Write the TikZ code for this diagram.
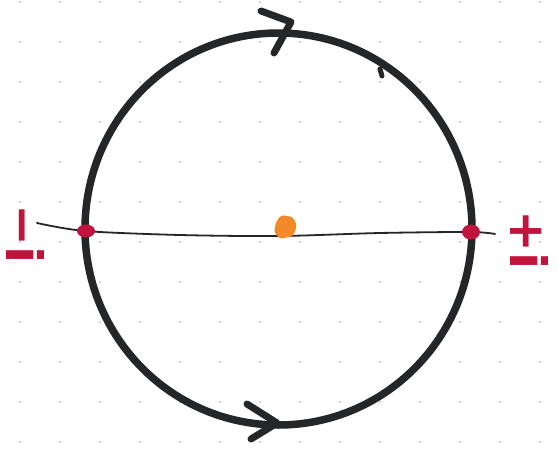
\documentclass[tikz,border=0pt]{standalone}
\usepackage{fontspec}
\setsansfont{DejaVu Sans}
\definecolor{ink}{HTML}{252628}
\definecolor{redmark}{HTML}{C0143C}
\definecolor{orangemark}{HTML}{F38A2A}
\definecolor{griddot}{HTML}{C4C4C4}
\tikzset{
  pen/.style={draw=ink, line width=7.5pt, line cap=round, line join=round},
  thinpen/.style={draw=ink, line width=1.8pt, line cap=round},
  marklabel/.style={text=redmark, font=\sffamily\bfseries\fontsize{50}{52}\selectfont, rotate=-90, inner sep=0pt},
  redblob/.style={fill=redmark},
}
\begin{document}
\begin{tikzpicture}[x=1pt,y=-1pt]
\useasboundingbox[fill=white] (0,0) rectangle (557,450);
% dotted grid
\foreach \gx in {20,60,...,540}{
  \foreach \gy in {2,42,...,442}{
    \fill[griddot] (\gx,\gy) circle (1.1pt);
  }
}
% circle
\coordinate (c) at (278.5,229);
\draw[pen] (c) ellipse [x radius=193.5, y radius=196];
% arrow heads
\coordinate (ttip) at (291,22);
\draw[pen, line width=7pt] (261,11) -- (ttip) -- (274,53);
\coordinate (btip) at (277,423);
\draw[pen, line width=7pt] (247,404) -- (btip) -- (251,439);
% small stub
\draw[pen, line width=5pt] (380,69) -- (382,76);
% diameter
\draw[thinpen] plot[smooth] coordinates {(37,223) (85,231) (180,235) (280,236) (380,233) (470,232) (495,234)};
% red marks
\fill[redblob] (86,231) ellipse [x radius=9, y radius=6.5];
\fill[redblob] (471,232) ellipse [x radius=9, y radius=7.5];
% orange blob
\fill[orangemark, rounded corners=3pt] (276,222) -- (281,215) -- (293,217) -- (297,226) -- (293,236) -- (280,239) -- (274,232) -- cycle;
% labels
\node[marklabel] (lm) at (25,234) {−i};
\node[marklabel] (lp) at (529,240) {+i};
\end{tikzpicture}
\end{document}
